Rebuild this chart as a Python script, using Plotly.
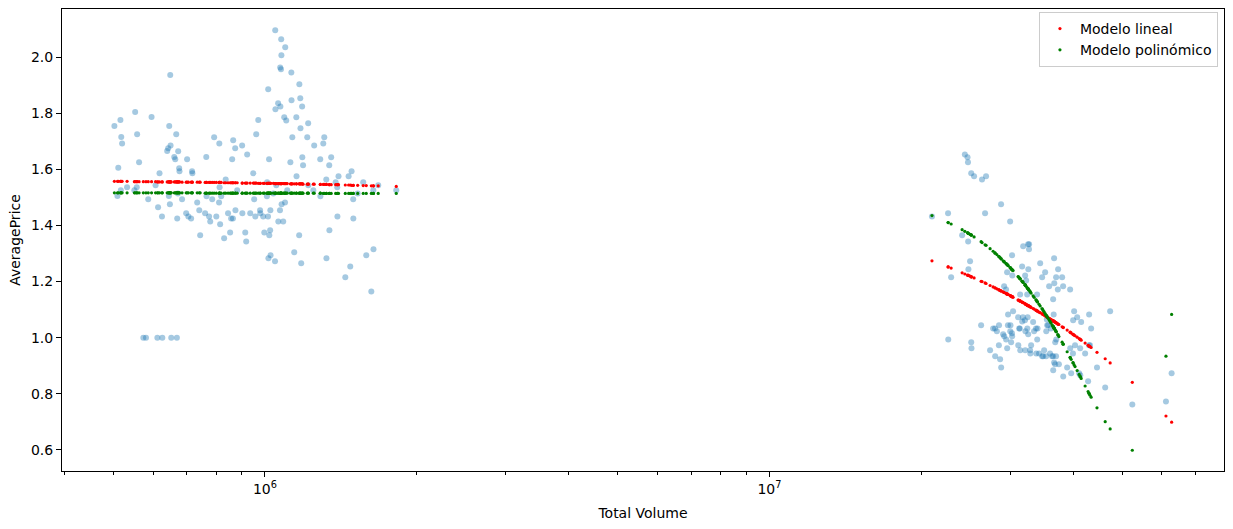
import plotly.graph_objects as go

# --- zona de bajo volumen (millones) ---
vol_bajo = [
    0.503, 0.517, 0.519, 0.521, 0.512, 0.518, 0.510, 0.553, 0.558, 0.563,
    0.557, 0.551, 0.533, 0.596, 0.618, 0.607, 0.587, 0.649, 0.646, 0.650,
    0.643, 0.640, 0.661, 0.664, 0.667, 0.673, 0.676, 0.677, 0.701, 0.717,
    0.718, 0.645, 0.685, 0.765, 0.793, 0.812, 0.861, 0.865, 0.873, 0.901,
    0.922, 0.948, 0.961, 0.970, 1.015, 1.019, 1.048, 1.077, 1.078, 1.097,
    1.072, 1.076, 1.128, 1.049, 1.062, 1.073, 1.092, 1.102, 1.129, 1.154,
    1.170, 1.175, 1.185, 1.176, 1.218, 1.133, 1.123, 1.186, 1.190, 1.155,
    1.213, 1.252, 1.287, 1.305, 1.311, 1.341, 1.353, 1.323, 1.399, 1.381,
    1.465, 1.485, 1.566, 1.677, 1.640, 1.821, 1.010, 0.836, 0.881, 0.813,
    1.107, 1.219, 1.247, 1.391, 1.496, 1.527, 0.614, 0.625, 0.648, 0.670,
    0.698, 0.705, 0.714, 0.734, 0.741, 0.744, 0.761, 0.766, 0.775, 0.779,
    0.786, 0.801, 0.811, 0.815, 0.819, 0.830, 0.845, 0.853, 0.857, 0.864,
    0.874, 0.902, 0.914, 0.918, 0.935, 0.952, 0.957, 0.978, 0.979, 0.992,
    0.997, 1.014, 1.020, 1.024, 1.025, 1.016, 1.026, 1.047, 1.009, 1.039,
    1.053, 1.063, 1.071, 1.079, 1.087, 1.096, 1.143, 1.169, 1.180, 1.288,
    1.324, 1.342, 1.392, 1.443, 1.476, 1.497, 1.588, 1.625, 1.641, 0.672,
    0.574, 0.581, 0.612, 0.626, 0.652, 0.669,
]
precio_bajo = [
    1.754, 1.776, 1.715, 1.692, 1.605, 1.525, 1.505, 1.804, 1.725, 1.625,
    1.536, 1.525, 1.536, 1.786, 1.586, 1.543, 1.493, 1.936, 1.754, 1.685,
    1.675, 1.665, 1.644, 1.636, 1.725, 1.664, 1.604, 1.593, 1.636, 1.593,
    1.586, 1.505, 1.493, 1.644, 1.714, 1.692, 1.636, 1.703, 1.675, 1.685,
    1.653, 1.586, 1.725, 1.776, 1.885, 1.636, 2.095, 2.063, 2.006, 2.035,
    1.963, 1.956, 1.945, 1.814, 1.835, 1.824, 1.785, 1.774, 1.846, 1.785,
    1.903, 1.853, 1.824, 1.746, 1.764, 1.714, 1.625, 1.643, 1.614, 1.575,
    1.714, 1.685, 1.636, 1.692, 1.714, 1.614, 1.643, 1.564, 1.575, 1.554,
    1.575, 1.593, 1.554, 1.543, 1.525, 1.525, 1.554, 1.564, 1.525, 1.536,
    1.525, 1.543, 1.525, 1.536, 1.493, 1.514, 1.465, 1.432, 1.475, 1.425,
    1.443, 1.432, 1.425, 1.482, 1.454, 1.365, 1.443, 1.504, 1.432, 1.414,
    1.493, 1.432, 1.482, 1.404, 1.504, 1.354, 1.443, 1.375, 1.425, 1.425,
    1.454, 1.443, 1.375, 1.343, 1.443, 1.493, 1.432, 1.454, 1.443, 1.432,
    1.375, 1.432, 1.365, 1.383, 1.454, 1.283, 1.294, 1.272, 1.504, 1.514,
    1.543, 1.414, 1.454, 1.475, 1.414, 1.482, 1.304, 1.365, 1.265, 1.504,
    1.283, 1.383, 1.432, 1.215, 1.254, 1.425, 1.294, 1.165, 1.315, 1.514,
    1.0, 1.0, 1.0, 1.0, 1.0, 1.0,
]
lineal_bajo = [
    1.557, 1.557, 1.557, 1.557, 1.557, 1.557, 1.557, 1.556, 1.556, 1.556,
    1.556, 1.556, 1.557, 1.556, 1.555, 1.556, 1.556, 1.555, 1.555, 1.555,
    1.555, 1.555, 1.555, 1.555, 1.555, 1.555, 1.555, 1.555, 1.554, 1.554,
    1.554, 1.555, 1.554, 1.553, 1.553, 1.553, 1.552, 1.552, 1.552, 1.551,
    1.551, 1.551, 1.551, 1.550, 1.550, 1.550, 1.549, 1.549, 1.549, 1.549,
    1.549, 1.549, 1.548, 1.549, 1.549, 1.549, 1.549, 1.549, 1.548, 1.548,
    1.548, 1.548, 1.548, 1.548, 1.547, 1.548, 1.548, 1.548, 1.547, 1.548,
    1.547, 1.547, 1.546, 1.546, 1.546, 1.545, 1.545, 1.546, 1.545, 1.545,
    1.544, 1.543, 1.542, 1.541, 1.541, 1.539, 1.550, 1.552, 1.552, 1.553,
    1.549, 1.547, 1.547, 1.545, 1.543, 1.543, 1.555, 1.555, 1.555, 1.555,
    1.554, 1.554, 1.554, 1.554, 1.554, 1.554, 1.553, 1.553, 1.553, 1.553,
    1.553, 1.553, 1.553, 1.553, 1.553, 1.552, 1.552, 1.552, 1.552, 1.552,
    1.552, 1.551, 1.551, 1.551, 1.551, 1.551, 1.551, 1.550, 1.550, 1.550,
    1.550, 1.550, 1.550, 1.550, 1.550, 1.550, 1.550, 1.549, 1.550, 1.550,
    1.549, 1.549, 1.549, 1.549, 1.549, 1.549, 1.548, 1.548, 1.548, 1.546,
    1.546, 1.545, 1.545, 1.544, 1.544, 1.543, 1.542, 1.541, 1.541, 1.555,
    1.556, 1.556, 1.555, 1.555, 1.555, 1.555,
]
poli_bajo = [
    1.516, 1.516, 1.516, 1.516, 1.516, 1.516, 1.516, 1.516, 1.516, 1.516,
    1.516, 1.516, 1.516, 1.516, 1.516, 1.516, 1.516, 1.516, 1.516, 1.516,
    1.516, 1.516, 1.516, 1.516, 1.516, 1.516, 1.516, 1.516, 1.516, 1.516,
    1.516, 1.516, 1.516, 1.515, 1.515, 1.515, 1.515, 1.515, 1.515, 1.515,
    1.515, 1.515, 1.515, 1.515, 1.515, 1.515, 1.515, 1.515, 1.515, 1.515,
    1.515, 1.515, 1.515, 1.515, 1.515, 1.515, 1.515, 1.515, 1.515, 1.515,
    1.515, 1.515, 1.515, 1.515, 1.515, 1.515, 1.515, 1.515, 1.515, 1.515,
    1.515, 1.515, 1.515, 1.514, 1.514, 1.514, 1.514, 1.514, 1.514, 1.514,
    1.514, 1.514, 1.514, 1.514, 1.514, 1.514, 1.515, 1.515, 1.515, 1.515,
    1.515, 1.515, 1.515, 1.514, 1.514, 1.514, 1.516, 1.516, 1.516, 1.516,
    1.516, 1.516, 1.516, 1.516, 1.516, 1.516, 1.515, 1.515, 1.515, 1.515,
    1.515, 1.515, 1.515, 1.515, 1.515, 1.515, 1.515, 1.515, 1.515, 1.515,
    1.515, 1.515, 1.515, 1.515, 1.515, 1.515, 1.515, 1.515, 1.515, 1.515,
    1.515, 1.515, 1.515, 1.515, 1.515, 1.515, 1.515, 1.515, 1.515, 1.515,
    1.515, 1.515, 1.515, 1.515, 1.515, 1.515, 1.515, 1.515, 1.515, 1.515,
    1.514, 1.514, 1.514, 1.514, 1.514, 1.514, 1.514, 1.514, 1.514, 1.516,
    1.516, 1.516, 1.516, 1.516, 1.516, 1.516,
]

# --- zona de alto volumen (millones) ---
vol_alto = [
    24.40, 24.70, 24.75, 25.12, 25.45, 26.39, 26.88, 28.79, 22.60, 26.76,
    30.00, 24.10, 24.77, 21.00, 22.92, 24.99, 24.80, 26.28, 22.62, 32.57,
    32.72, 32.70, 31.84, 30.27, 31.69, 32.60, 29.59, 30.30, 32.13, 32.28,
    34.41, 34.72, 35.20, 35.85, 36.67, 37.35, 37.01, 38.04, 36.70, 37.30,
    38.21, 39.45, 32.43, 31.40, 33.93, 29.19, 29.45, 36.51, 36.60, 40.18,
    40.00, 40.74, 41.49, 43.03, 43.42, 47.36, 29.72, 30.41, 31.80, 32.10,
    32.50, 31.70, 33.32, 34.00, 28.52, 29.70, 30.05, 27.76, 28.00, 28.24,
    31.12, 31.36, 32.45, 33.76, 35.53, 35.69, 36.13, 35.47, 33.47, 30.25,
    25.12, 25.15, 27.38, 28.02, 28.66, 28.80, 28.50, 29.06, 29.20, 29.46,
    29.60, 30.14, 30.28, 30.02, 31.14, 31.42, 32.15, 32.87, 33.02, 32.90,
    33.80, 34.24, 33.95, 32.58, 32.17, 31.26, 34.72, 34.88, 35.04, 35.36,
    36.00, 36.33, 36.50, 37.00, 36.67, 36.84, 36.52, 37.48, 38.23, 38.92,
    39.64, 39.97, 39.47, 40.35, 41.30, 42.25, 41.11, 41.32, 42.83, 44.60,
    46.30, 52.40, 61.10, 62.70, 43.00, 43.20, 37.03, 36.86, 35.38,
]
precio_alto = [
    1.653, 1.643, 1.625, 1.586, 1.575, 1.564, 1.575, 1.475, 1.443, 1.443,
    1.414, 1.365, 1.343, 1.432, 1.215, 1.272, 1.244, 1.044, 0.994, 1.333,
    1.333, 1.315, 1.326, 1.294, 1.254, 1.244, 1.233, 1.222, 1.222, 1.204,
    1.265, 1.215, 1.233, 1.183, 1.283, 1.244, 1.215, 1.215, 1.194, 1.172,
    1.183, 1.172, 1.154, 1.154, 1.154, 1.183, 1.172, 1.137, 1.083, 1.094,
    1.062, 1.073, 1.056, 1.083, 1.033, 1.094, 1.083, 1.094, 1.073, 1.062,
    1.073, 1.058, 1.056, 1.033, 1.044, 1.044, 1.044, 1.033, 1.033, 1.023,
    1.073, 1.033, 1.033, 1.033, 1.044, 1.044, 1.033, 1.065, 1.023, 1.016,
    0.984, 0.962, 0.955, 0.934, 0.923, 0.894, 0.973, 1.012, 1.005, 0.994,
    0.962, 0.984, 1.005, 1.023, 0.973, 0.955, 0.955, 0.955, 0.973, 0.944,
    0.944, 0.944, 0.994, 1.012, 1.023, 1.033, 0.934, 0.934, 0.955, 0.934,
    0.944, 0.934, 0.934, 0.934, 0.912, 0.905, 0.884, 0.905, 0.862, 0.894,
    0.873, 0.944, 0.962, 0.973, 0.962, 0.944, 0.873, 0.866, 0.845, 0.894,
    0.823, 0.762, 0.773, 0.873, 0.973, 0.973, 0.994, 0.984, 1.023,
]
lineal_alto = [
    1.227, 1.223, 1.222, 1.217, 1.213, 1.200, 1.193, 1.167, 1.252, 1.195,
    1.150, 1.231, 1.222, 1.274, 1.248, 1.219, 1.222, 1.201, 1.252, 1.114,
    1.112, 1.113, 1.125, 1.146, 1.127, 1.114, 1.156, 1.146, 1.121, 1.118,
    1.089, 1.085, 1.078, 1.069, 1.058, 1.048, 1.053, 1.039, 1.057, 1.049,
    1.037, 1.020, 1.116, 1.131, 1.096, 1.161, 1.158, 1.060, 1.059, 1.009,
    1.012, 1.002, 0.991, 0.970, 0.965, 0.910, 1.154, 1.144, 1.125, 1.121,
    1.115, 1.127, 1.104, 1.095, 1.170, 1.154, 1.149, 1.181, 1.178, 1.174,
    1.134, 1.131, 1.116, 1.098, 1.074, 1.071, 1.065, 1.074, 1.102, 1.146,
    1.217, 1.217, 1.186, 1.177, 1.168, 1.166, 1.171, 1.163, 1.161, 1.157,
    1.155, 1.148, 1.146, 1.150, 1.134, 1.130, 1.120, 1.110, 1.108, 1.110,
    1.097, 1.091, 1.095, 1.114, 1.120, 1.133, 1.085, 1.083, 1.080, 1.076,
    1.067, 1.063, 1.060, 1.053, 1.058, 1.056, 1.060, 1.047, 1.036, 1.027,
    1.017, 1.012, 1.019, 1.007, 0.994, 0.981, 0.997, 0.994, 0.973, 0.948,
    0.925, 0.841, 0.721, 0.699, 0.970, 0.968, 1.053, 1.055, 1.076,
]
poli_alto = [
    1.379, 1.374, 1.373, 1.366, 1.359, 1.339, 1.329, 1.281, 1.410, 1.331,
    1.250, 1.385, 1.372, 1.435, 1.405, 1.368, 1.372, 1.342, 1.410, 1.174,
    1.169, 1.170, 1.197, 1.242, 1.201, 1.173, 1.261, 1.241, 1.188, 1.183,
    1.113, 1.103, 1.086, 1.063, 1.034, 1.009, 1.022, 0.984, 1.033, 1.011,
    0.977, 0.930, 1.178, 1.210, 1.129, 1.271, 1.264, 1.040, 1.037, 0.903,
    0.910, 0.883, 0.855, 0.801, 0.788, 0.675, 1.257, 1.239, 1.198, 1.189,
    1.176, 1.201, 1.149, 1.127, 1.289, 1.258, 1.249, 1.308, 1.302, 1.296,
    1.218, 1.211, 1.177, 1.135, 1.074, 1.069, 1.053, 1.077, 1.144, 1.243,
    1.366, 1.365, 1.317, 1.301, 1.285, 1.281, 1.289, 1.274, 1.270, 1.264,
    1.260, 1.246, 1.242, 1.249, 1.217, 1.209, 1.187, 1.164, 1.159, 1.163,
    1.134, 1.119, 1.129, 1.174, 1.187, 1.214, 1.103, 1.097, 1.092, 1.080,
    1.058, 1.046, 1.040, 1.022, 1.034, 1.028, 1.040, 1.004, 0.977, 0.950,
    0.923, 0.911, 0.929, 0.897, 0.862, 0.828, 0.869, 0.861, 0.808, 0.750,
    0.701, 0.599, 0.934, 1.083, 0.802, 0.795, 1.021, 1.027, 1.080,
]

volumen = [v * 1e6 for v in vol_bajo + vol_alto]
precio = precio_bajo + precio_alto
pred_lineal = lineal_bajo + lineal_alto
pred_poli = poli_bajo + poli_alto

fuente = dict(family="DejaVu Sans", size=14, color="black")

fig = go.Figure()
fig.add_trace(go.Scatter(x=volumen, y=precio, mode="markers", showlegend=False,
                         marker=dict(color="#1f77b4", size=6, opacity=0.4)))
fig.add_trace(go.Scatter(x=volumen, y=pred_lineal, mode="markers", name="Modelo lineal",
                         marker=dict(color="red", size=3.2)))
fig.add_trace(go.Scatter(x=volumen, y=pred_poli, mode="markers", name="Modelo polinómico",
                         marker=dict(color="green", size=3.2)))

fig.update_layout(
    width=1233, height=529,
    margin=dict(l=62, r=9, t=9, b=58, autoexpand=False),
    paper_bgcolor="white", plot_bgcolor="white",
    font=fuente,
    legend=dict(x=0.9948, y=0.9935, xanchor="right", yanchor="top",
                bgcolor="white", bordercolor="#cccccc", borderwidth=1,
                tracegroupgap=0, font=fuente),
)
fig.update_xaxes(
    type="log", range=[5.5977, 7.9011], automargin=False,
    tickvals=[1e6, 1e7], ticktext=["10<sup>6</sup>", "10<sup>7</sup>"],
    ticks="outside", ticklen=5, tickwidth=1, tickcolor="black",
    minor=dict(ticks="outside", ticklen=3, tickwidth=1, tickcolor="black",
               tickvals=[m * 10 ** e for e in (5, 6, 7) for m in range(2, 10)],
               showgrid=False),
    showline=True, linecolor="black", linewidth=1, mirror=True,
    showgrid=False, zeroline=False,
    title=dict(text="Total Volume", standoff=12, font=fuente),
)
fig.update_yaxes(
    range=[0.5251, 2.171], tick0=0.6, dtick=0.2, tickformat=".1f",
    automargin=False,
    ticks="outside", ticklen=5, tickwidth=1, tickcolor="black",
    showline=True, linecolor="black", linewidth=1, mirror=True,
    showgrid=False, zeroline=False,
    title=dict(text="AveragePrice", standoff=7, font=fuente),
)

# quitar el margen del body para que la figura quede en (0, 0)
fig.write_html("out.html", config={"displayModeBar": False},
               post_script="document.body.style.margin = '0';")
